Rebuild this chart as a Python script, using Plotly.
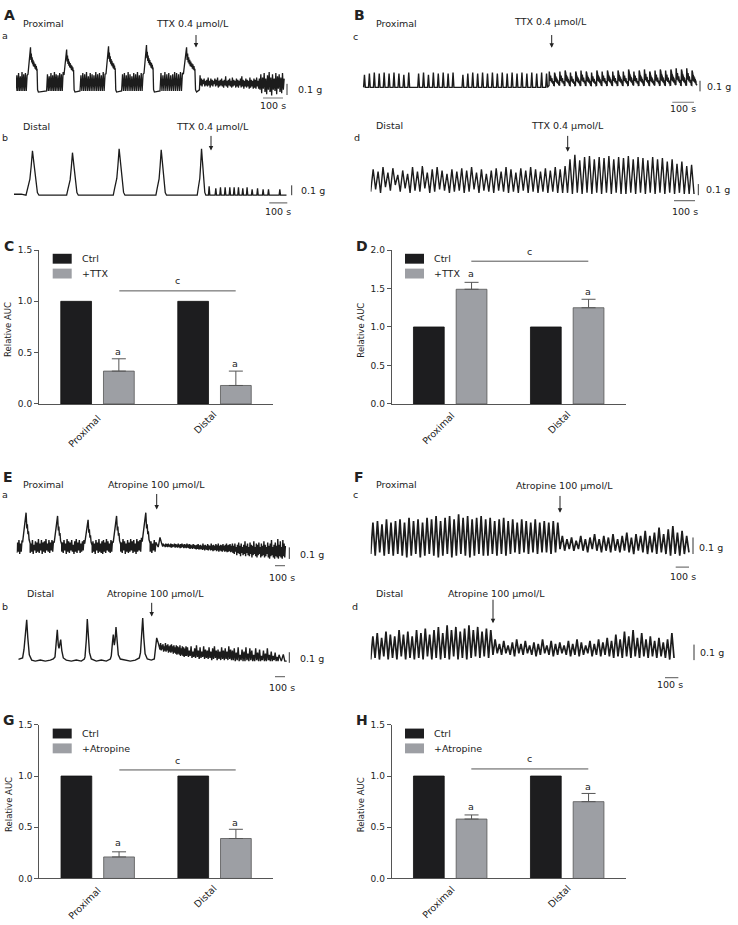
import plotly.graph_objects as go

W, H = 738, 925
FONT = "DejaVu Sans"
INK = "#1c1c1c"

# ---------------- bar chart data ----------------
categories = ["Proximal", "Distal"]
c_ctrl = [1.0, 1.0]
c_ttx = [0.32, 0.18]
c_ttx_err = [0.12, 0.14]
d_ctrl = [1.0, 1.0]
d_ttx = [1.49, 1.25]
d_ttx_err = [0.09, 0.11]
g_ctrl = [1.0, 1.0]
g_atr = [0.21, 0.39]
g_atr_err = [0.05, 0.09]
h_ctrl = [1.0, 1.0]
h_atr = [0.58, 0.75]
h_atr_err = [0.04, 0.08]

# ---------------- trace data (time in s, force in g) ----------------
# A-a proximal, TTX
aa_train_t = [(0, 60), (153, 240), (320, 450), (528, 640), (720, 837)]
aa_train_hi = [
    [0.15, 0.17, 0.14, 0.18, 0.16, 0.17, 0.15],
    [0.16, 0.14, 0.17, 0.15, 0.18, 0.16, 0.15, 0.17, 0.16, 0.18],
    [0.15, 0.17, 0.16, 0.18, 0.14, 0.17, 0.16, 0.15, 0.18, 0.16, 0.17, 0.15, 0.18, 0.16],
    [0.16, 0.17, 0.15, 0.18, 0.16, 0.14, 0.17, 0.16, 0.18, 0.15, 0.17, 0.16],
    [0.17, 0.15, 0.18, 0.16, 0.17, 0.15, 0.16, 0.18, 0.17, 0.16, 0.18, 0.17],
]
aa_wave_on = [60, 240, 450, 640, 837]
aa_wave_dur = [52, 55, 53, 52, 66]
aa_wave_pk = [0.40, 0.38, 0.41, 0.42, 0.40]
aa_wave_s = [0.0, 0.08, 0.16, 0.24, 0.28, 0.32, 0.36, 0.40, 0.44, 0.48, 0.52, 0.56, 0.60, 0.64,
             0.68, 0.72, 0.76, 0.80, 0.84, 0.87, 0.92, 1.0]
aa_wave_f = [0.40, 0.60, 0.85, 1.00, 0.72, 0.86, 0.66, 0.78, 0.62, 0.72, 0.58, 0.68, 0.56, 0.64,
             0.52, 0.62, 0.50, 0.58, 0.48, 0.52, 0.05, 0.0]
aa_ttx_hi1 = [0.15, 0.12, 0.11, 0.12, 0.10, 0.11, 0.13, 0.10, 0.12, 0.11, 0.10, 0.12, 0.11, 0.13, 0.10,
              0.11, 0.12, 0.10, 0.11, 0.14, 0.10, 0.11, 0.12, 0.10, 0.13, 0.11, 0.10, 0.12, 0.11, 0.10,
              0.12, 0.14, 0.11, 0.10, 0.12, 0.11, 0.10, 0.13, 0.11, 0.10, 0.12, 0.11, 0.13, 0.10, 0.12]
aa_ttx_lo1 = [0.05, 0.06, 0.05, 0.07, 0.05, 0.06, 0.05, 0.06, 0.04, 0.06, 0.05, 0.07, 0.05, 0.06, 0.04,
              0.05, 0.06, 0.05, 0.04, 0.06, 0.05, 0.04, 0.06, 0.05, 0.04, 0.05, 0.06, 0.04, 0.05, 0.04,
              0.06, 0.04, 0.05, 0.03, 0.05, 0.04, 0.05, 0.03, 0.04, 0.05, 0.03, 0.04, 0.03, 0.05, 0.03]
aa_ttx_hi2 = [0.16, 0.13, 0.17, 0.12, 0.15, 0.18, 0.13, 0.16, 0.12, 0.17, 0.14, 0.16, 0.13, 0.17, 0.12]
aa_ttx_lo2 = [0.02, -0.01, 0.03, 0.0, -0.02, 0.02, 0.0, -0.03, 0.02, 0.01, -0.02, 0.03, 0.0, -0.01, 0.02]

# A-b distal, TTX
ab_wave_on = [66.7, 292.6, 552, 789, 1018.6]
ab_wave_dur = [72, 65, 65, 59, 48]
ab_wave_pk = [0.45, 0.43, 0.47, 0.46, 0.47]
ab_wave_s = [0.0, 0.12, 0.22, 0.30, 0.40, 0.50, 0.62, 0.75, 0.88, 1.0]
ab_wave_f = [0.0, 0.15, 0.30, 0.36, 0.65, 1.0, 0.70, 0.35, 0.06, 0.0]
ab_ttx_spk_t = [1085, 1122, 1148, 1174, 1200, 1224, 1248, 1272, 1296, 1324, 1354, 1385, 1415, 1478]
ab_ttx_spk_h = [0.09, 0.07, 0.08, 0.08, 0.08, 0.08, 0.08, 0.07, 0.08, 0.06, 0.07, 0.06, 0.06, 0.06]

# B-c proximal, TTX
bc_pre = [0.12, 0.13, 0.14, 0.13, 0.14, 0.13, 0.14, 0.13, 0.12, 0.14, 0.0, 0.13, 0.14, 0.12, 0.14,
          0.13, 0.14, 0.13, 0.14, 0.0, 0.12, 0.13, 0.14, 0.13, 0.14, 0.13, 0.14, 0.13, 0.14, 0.13,
          0.14, 0.13, 0.14, 0.13, 0.14, 0.13, 0.14, 0.13]
bc_post = [0.15, 0.14, 0.15, 0.16, 0.14, 0.15, 0.16, 0.15, 0.14, 0.16, 0.15, 0.16, 0.15, 0.16,
           0.15, 0.17, 0.15, 0.16, 0.17, 0.15, 0.16, 0.17, 0.16, 0.17, 0.18, 0.17, 0.18, 0.16]
bc_cyc_s = [0.0, 0.05, 0.11, 0.17, 0.23, 0.29, 0.35, 0.41, 0.47, 0.53, 0.59, 0.65, 0.71, 0.77, 0.83, 0.90]
bc_cyc_f = [0.12, 1.0, 0.45, 0.85, 0.40, 0.75, 0.36, 0.66, 0.32, 0.58, 0.28, 0.50, 0.24, 0.40, 0.18, 0.12]

# B-d distal, TTX
bd_pre_hi = [0.22, 0.20, 0.24, 0.19, 0.23, 0.17, 0.21, 0.18, 0.24, 0.20, 0.25, 0.19, 0.22, 0.24,
             0.21, 0.18, 0.22, 0.20, 0.23, 0.21, 0.24, 0.19, 0.22, 0.18, 0.21, 0.23, 0.20, 0.24,
             0.22, 0.19, 0.23, 0.21, 0.24, 0.22, 0.20, 0.23, 0.21, 0.24, 0.22, 0.25]
bd_pre_lo = [0.02, 0.04, 0.01, 0.06, 0.03, 0.08, 0.02, 0.05, 0.01, 0.03, 0.02, 0.05, 0.01, 0.02,
             0.04, 0.03, 0.01, 0.02, 0.03, 0.01, 0.02, 0.04, 0.01, 0.03, 0.02, 0.01, 0.03, 0.02,
             0.01, 0.02, 0.01, 0.03, 0.01, 0.02, 0.01, 0.02, 0.01, 0.02, 0.01, 0.01]
bd_post_hi = [0.31, 0.35, 0.30, 0.33, 0.34, 0.31, 0.33, 0.32, 0.34, 0.31, 0.33, 0.32, 0.34, 0.31,
              0.33, 0.32, 0.30, 0.33, 0.31, 0.32, 0.29, 0.31, 0.27, 0.29, 0.25, 0.26]
bd_post_lo = [0.01, 0.0, 0.01, 0.0, 0.01, 0.0, 0.01, 0.0, 0.01, 0.0, 0.01, 0.0, 0.0, 0.01,
              0.0, 0.01, 0.0, 0.01, 0.0, 0.01, 0.0, 0.01, 0.0, 0.01, 0.0, 0.0]

# E-a proximal, atropine
ea_train_t = [(0, 60), (135, 375), (450, 680), (755, 965), (1040, 1255), (1335, 1400)]
ea_train_hi = [
    [0.10, 0.12, 0.09, 0.11],
    [0.09, 0.12, 0.08, 0.11, 0.10, 0.13, 0.09, 0.12, 0.10, 0.11, 0.13, 0.09, 0.12, 0.10, 0.12, 0.11],
    [0.10, 0.12, 0.09, 0.13, 0.11, 0.10, 0.12, 0.08, 0.11, 0.13, 0.10, 0.12, 0.09, 0.11, 0.12],
    [0.11, 0.09, 0.12, 0.10, 0.13, 0.09, 0.11, 0.12, 0.10, 0.13, 0.11, 0.09, 0.12, 0.11],
    [0.10, 0.13, 0.11, 0.09, 0.12, 0.10, 0.13, 0.11, 0.12, 0.09, 0.13, 0.11, 0.12, 0.14],
    [0.11, 0.09, 0.12, 0.10],
]
ea_train_lo = [
    [0.01, 0.02, 0.0, 0.02],
    [0.01, 0.02, 0.0, 0.03, 0.01, 0.02, 0.01, 0.03, 0.0, 0.02, 0.01, 0.03, 0.02, 0.01, 0.03, 0.02],
    [0.02, 0.01, 0.03, 0.0, 0.02, 0.01, 0.03, 0.02, 0.0, 0.02, 0.01, 0.03, 0.01, 0.02, 0.03],
    [0.01, 0.02, 0.0, 0.03, 0.01, 0.02, 0.01, 0.0, 0.02, 0.01, 0.03, 0.02, 0.01, 0.02],
    [0.02, 0.01, 0.03, 0.0, 0.02, 0.01, 0.02, 0.03, 0.01, 0.02, 0.0, 0.02, 0.03, 0.02],
    [0.02, 0.01, 0.03, 0.02],
]
ea_wave_on = [60, 375, 680, 965, 1255]
ea_wave_dur = [75, 75, 75, 75, 80]
ea_wave_pk = [0.357, 0.329, 0.295, 0.329, 0.357]
ea_wave_s = [0.0, 0.15, 0.30, 0.45, 0.55, 0.62, 0.70, 0.77, 0.85, 1.0]
ea_wave_f = [0.30, 0.50, 0.75, 1.0, 0.62, 0.72, 0.48, 0.55, 0.35, 0.25]
ea_bump_t = [1415, 1433, 1450]
ea_bump_f = [0.06, 0.143, 0.09]
ea_band_t = [(1460, 1833), (1833, 2163), (2163, 2693)]
ea_band_hi = [
    [0.09, 0.08, 0.09, 0.085, 0.09, 0.08, 0.09, 0.085, 0.08, 0.09, 0.085, 0.08, 0.09, 0.08, 0.085,
     0.09, 0.08, 0.085, 0.08, 0.09, 0.08, 0.085, 0.08, 0.075, 0.085, 0.08, 0.075, 0.08, 0.085, 0.075],
    [0.08, 0.07, 0.09, 0.075, 0.08, 0.07, 0.085, 0.075, 0.07, 0.09, 0.075, 0.08, 0.07, 0.085,
     0.075, 0.09, 0.07, 0.08, 0.075, 0.085, 0.07, 0.08, 0.09, 0.075, 0.08, 0.085, 0.07, 0.09],
    [0.07, 0.09, 0.06, 0.08, 0.10, 0.07, 0.09, 0.06, 0.08, 0.11, 0.07, 0.09, 0.06, 0.10, 0.08,
     0.07, 0.11, 0.06, 0.09, 0.08, 0.10, 0.06, 0.09, 0.07, 0.11, 0.08, 0.06, 0.10, 0.07, 0.09,
     0.12, 0.06, 0.08, 0.10, 0.07, 0.13, 0.08, 0.11, 0.06, 0.12, 0.09, 0.07],
]
ea_band_lo = [
    [0.065, 0.07, 0.06, 0.065, 0.06, 0.065, 0.06, 0.055, 0.06, 0.065, 0.055, 0.06, 0.055, 0.06, 0.05,
     0.055, 0.06, 0.05, 0.055, 0.05, 0.055, 0.05, 0.045, 0.05, 0.045, 0.05, 0.045, 0.04, 0.045, 0.04],
    [0.04, 0.045, 0.035, 0.04, 0.03, 0.04, 0.035, 0.03, 0.04, 0.03, 0.035, 0.025, 0.03, 0.035,
     0.025, 0.03, 0.02, 0.03, 0.025, 0.02, 0.03, 0.02, 0.025, 0.015, 0.02, 0.025, 0.015, 0.02],
    [0.01, 0.0, 0.02, -0.01, 0.01, 0.0, -0.02, 0.01, -0.01, 0.0, -0.02, 0.01, -0.01, -0.02, 0.0,
     -0.03, -0.01, 0.0, -0.02, -0.03, -0.01, 0.0, -0.03, -0.02, -0.01, -0.03, -0.02, 0.0, -0.03, -0.04,
     -0.02, -0.01, -0.03, -0.04, -0.02, -0.03, -0.04, -0.02, -0.03, -0.04, -0.02, -0.03],
]

# E-b distal, atropine
eb_pre_t = [0, 20, 43, 57, 70, 84, 95, 110, 134, 170, 220, 270, 320, 350,
            367, 380, 390, 400, 407, 417, 424, 435, 450, 480, 530, 580, 630, 660,
            667, 680, 690, 700, 712, 730, 780, 830, 880, 920,
            930, 942, 950, 960, 968, 977, 988, 1000, 1020, 1070, 1120, 1170, 1210,
            1222, 1235, 1244, 1255, 1268, 1290, 1330, 1360, 1375, 1384, 1400]
eb_pre_f = [0.016, 0.02, 0.03, 0.11, 0.25, 0.39, 0.22, 0.06, 0.01, 0.0, 0.01, 0.0, 0.01, 0.02,
            0.04, 0.16, 0.297, 0.15, 0.12, 0.17, 0.203, 0.10, 0.03, 0.01, 0.0, 0.01, 0.0, 0.02,
            0.04, 0.20, 0.397, 0.25, 0.08, 0.02, 0.0, 0.01, 0.0, 0.02,
            0.05, 0.18, 0.25, 0.15, 0.20, 0.322, 0.18, 0.06, 0.02, 0.01, 0.0, 0.01, 0.03,
            0.08, 0.25, 0.406, 0.22, 0.07, 0.02, 0.01, 0.02, 0.12, 0.22, 0.17]
eb_band_t = [(1417, 1683), (1683, 2150), (2150, 2617)]
eb_band_hi = [
    [0.17, 0.15, 0.16, 0.14, 0.17, 0.15, 0.16, 0.14, 0.15, 0.16, 0.14, 0.15, 0.13, 0.15, 0.14,
     0.13, 0.15, 0.12, 0.14, 0.13, 0.12, 0.14],
    [0.13, 0.10, 0.14, 0.09, 0.12, 0.15, 0.10, 0.13, 0.09, 0.14, 0.11, 0.10, 0.13, 0.09, 0.12,
     0.14, 0.10, 0.11, 0.09, 0.13, 0.10, 0.12, 0.09, 0.14, 0.11, 0.10],
    [0.12, 0.08, 0.13, 0.06, 0.11, 0.09, 0.13, 0.07, 0.12, 0.10, 0.06, 0.12, 0.08, 0.11, 0.05,
     0.10, 0.07, 0.12, 0.06, 0.09, 0.05, 0.08, 0.04, 0.06],
]
eb_band_lo = [
    [0.11, 0.10, 0.11, 0.09, 0.10, 0.09, 0.10, 0.08, 0.09, 0.08, 0.09, 0.07, 0.08, 0.07, 0.06,
     0.07, 0.06, 0.05, 0.06, 0.05, 0.04, 0.05],
    [0.05, 0.04, 0.05, 0.03, 0.04, 0.03, 0.04, 0.02, 0.03, 0.04, 0.02, 0.03, 0.02, 0.03, 0.01,
     0.02, 0.03, 0.01, 0.02, 0.01, 0.02, 0.01, 0.02, 0.01, 0.02, 0.01],
    [0.01, 0.0, 0.01, 0.0, 0.01, 0.0, 0.0, 0.01, 0.0, 0.01, 0.0, 0.0, 0.01, 0.0, 0.0,
     0.01, 0.0, 0.0, 0.01, 0.0, 0.0, 0.01, 0.0, 0.0],
]
eb_end_t = [2630, 2650, 2665, 2684]
eb_end_f = [0.0, 0.063, 0.0, 0.0]

# F-c proximal, atropine
fc_pre_hi = [0.20, 0.21, 0.19, 0.22, 0.20, 0.21, 0.22, 0.20, 0.23, 0.21, 0.22, 0.20, 0.23, 0.22,
             0.24, 0.21, 0.23, 0.24, 0.22, 0.25, 0.23, 0.24, 0.22, 0.23, 0.24, 0.22, 0.23, 0.21,
             0.22, 0.23, 0.21, 0.22, 0.20, 0.22, 0.21, 0.20, 0.22, 0.20, 0.21, 0.20, 0.21, 0.20]
fc_pre_lo = [0.01, 0.0, 0.02, 0.0, 0.01, 0.0, 0.01, 0.0, -0.01, 0.0, 0.01, -0.01, 0.0, 0.01,
             0.0, -0.01, 0.0, 0.01, -0.01, 0.0, 0.01, 0.0, -0.01, 0.0, 0.01, 0.0, 0.0, 0.01,
             0.0, 0.01, 0.0, 0.01, 0.02, 0.01, 0.02, 0.01, 0.02, 0.01, 0.02, 0.02, 0.01, 0.02]
fc_post_hi = [0.12, 0.10, 0.11, 0.09, 0.12, 0.10, 0.11, 0.13, 0.10, 0.12, 0.11, 0.13, 0.10, 0.12,
              0.14, 0.11, 0.13, 0.12, 0.15, 0.12, 0.14, 0.17, 0.13, 0.16, 0.18, 0.14, 0.15, 0.12]
fc_post_lo = [0.04, 0.03, 0.04, 0.03, 0.04, 0.03, 0.02, 0.04, 0.03, 0.02, 0.03, 0.02, 0.03, 0.02,
              0.03, 0.02, 0.01, 0.03, 0.02, 0.01, 0.02, 0.01, 0.02, 0.01, 0.0, 0.01, 0.0, 0.01]

# F-d distal, atropine
fd_pre_hi = [0.15, 0.17, 0.14, 0.18, 0.16, 0.15, 0.19, 0.16, 0.18, 0.15, 0.19, 0.17, 0.20, 0.16,
             0.19, 0.21, 0.17, 0.22, 0.19, 0.21, 0.18, 0.20, 0.22, 0.19, 0.21, 0.18, 0.20, 0.19]
fd_pre_lo = [0.0, 0.01, 0.0, 0.02, 0.0, 0.01, 0.0, 0.02, 0.0, 0.01, 0.0, 0.01, 0.0, 0.02,
             0.0, 0.01, 0.0, 0.01, 0.0, 0.02, 0.0, 0.01, 0.0, 0.01, 0.02, 0.01, 0.02, 0.01]
fd_post_hi = [0.13, 0.10, 0.12, 0.09, 0.11, 0.13, 0.10, 0.12, 0.09, 0.11, 0.10, 0.13, 0.09, 0.12,
              0.10, 0.11, 0.09, 0.12, 0.10, 0.13, 0.11, 0.09, 0.12, 0.10, 0.13, 0.11, 0.14, 0.12,
              0.16, 0.13, 0.18, 0.15, 0.19, 0.14, 0.17, 0.13, 0.15, 0.12, 0.14, 0.11, 0.13, 0.17]
fd_post_lo = [0.03, 0.04, 0.03, 0.04, 0.03, 0.02, 0.04, 0.03, 0.04, 0.03, 0.02, 0.03, 0.04, 0.03,
              0.02, 0.03, 0.04, 0.03, 0.02, 0.03, 0.02, 0.03, 0.04, 0.02, 0.03, 0.02, 0.03, 0.02,
              0.01, 0.02, 0.01, 0.02, 0.01, 0.02, 0.01, 0.02, 0.01, 0.02, 0.01, 0.02, 0.01, 0.0]


# ---------------- builders ----------------
def zig(t0, t1, hi, lo):
    n = len(hi)
    dt = (t1 - t0) / n
    pts = []
    for i in range(n):
        low = lo[i] if isinstance(lo, list) else lo
        pts.append((t0 + i * dt, low))
        pts.append((t0 + (i + 0.5) * dt, hi[i]))
    return pts


def wave(on, dur, pk, s_list, f_list):
    return [(on + s * dur, f * pk) for s, f in zip(s_list, f_list)]


def spikes(times, heights, base, half):
    pts = []
    for t, h in zip(times, heights):
        pts += [(t - half, base), (t, h), (t + half, base)]
    return pts


def spike_train(t0, t1, heights, base, half):
    n = len(heights)
    dt = (t1 - t0) / n
    return spikes([t0 + (i + 0.5) * dt for i in range(n)], heights, base, half)


def cycles(t0, t1, pks, s_list, f_list):
    n = len(pks)
    dt = (t1 - t0) / n
    return [(t0 + i * dt + s * dt, f * p) for i, p in enumerate(pks) for s, f in zip(s_list, f_list)]


# A-a
aa = []
for k in range(5):
    aa += zig(aa_train_t[k][0], aa_train_t[k][1], aa_train_hi[k], 0.01)
    aa += wave(aa_wave_on[k], aa_wave_dur[k], aa_wave_pk[k], aa_wave_s, aa_wave_f)
aa += [(917, 0.02)] + zig(917, 1220, aa_ttx_hi1, aa_ttx_lo1) + zig(1220, 1345, aa_ttx_hi2, aa_ttx_lo2)

# A-b
ab = [(0, 0.01), (40, 0.01)]
for k in range(5):
    ab += wave(ab_wave_on[k], ab_wave_dur[k], ab_wave_pk[k], ab_wave_s, ab_wave_f)
ab += spikes(ab_ttx_spk_t, ab_ttx_spk_h, 0.0, 4) + [(1515, 0.0)]

# B-c
bc = spike_train(0, 864, bc_pre, 0.0, 4) + cycles(864, 1548, bc_post, bc_cyc_s, bc_cyc_f) + [(1548, 0.02)]

# B-d
bd = zig(0, 937, bd_pre_hi, bd_pre_lo) + zig(937, 1539, bd_post_hi, bd_post_lo) + [(1539, 0.0)]

# E-a
ea = []
for k in range(5):
    ea += zig(ea_train_t[k][0], ea_train_t[k][1], ea_train_hi[k], ea_train_lo[k])
    ea += wave(ea_wave_on[k], ea_wave_dur[k], ea_wave_pk[k], ea_wave_s, ea_wave_f)
ea += zig(ea_train_t[5][0], ea_train_t[5][1], ea_train_hi[5], ea_train_lo[5])
ea += list(zip(ea_bump_t, ea_bump_f))
for k in range(3):
    ea += zig(ea_band_t[k][0], ea_band_t[k][1], ea_band_hi[k], ea_band_lo[k])

# E-b
eb = list(zip(eb_pre_t, eb_pre_f))
for k in range(3):
    eb += zig(eb_band_t[k][0], eb_band_t[k][1], eb_band_hi[k], eb_band_lo[k])
eb += list(zip(eb_end_t, eb_end_f))

# F-c / F-d
fc = zig(0, 1420, fc_pre_hi, fc_pre_lo) + zig(1420, 2387, fc_post_hi, fc_post_lo) + [(2387, 0.02)]
fd = zig(0, 917, fd_pre_hi, fd_pre_lo) + zig(917, 2275, fd_post_hi, fd_post_lo) + [(2275, 0.01)]

# ---------------- figure ----------------
fig = go.Figure()
layout = dict(width=W, height=H, margin=dict(l=0, r=0, t=0, b=0), paper_bgcolor="white",
              plot_bgcolor="rgba(0,0,0,0)", showlegend=False, barmode="overlay",
              font=dict(family=FONT, size=9.5, color="#222"))
shapes, annotations = [], []
n_ax = [0]


def px(x):
    return x / W


def py(y):
    return 1 - y / H


def new_axes(x0, y0, x1, y1, xr, yr):
    n_ax[0] += 1
    i = n_ax[0]
    sfx = "" if i == 1 else str(i)
    layout["xaxis" + sfx] = dict(domain=[px(x0), px(x1)], range=xr, anchor="y" + sfx, visible=False,
                                 fixedrange=True)
    layout["yaxis" + sfx] = dict(domain=[py(y1), py(y0)], range=yr, anchor="x" + sfx, visible=False,
                                 fixedrange=True)
    return "x" + sfx, "y" + sfx


def text(x, y, s, size=9.5, xanchor="center", bold=False, angle=0, color="#222"):
    annotations.append(dict(x=px(x), y=py(y), xref="paper", yref="paper", text=("<b>%s</b>" % s) if bold else s,
                            showarrow=False, xanchor=xanchor, yanchor="middle", textangle=angle,
                            font=dict(family=FONT, size=size, color=color)))


def arrow(x, y_tail, y_head):
    annotations.append(dict(x=px(x), y=py(y_head), xref="paper", yref="paper", ax=0, ay=-(y_head - y_tail),
                            text="", showarrow=True, arrowhead=2, arrowsize=0.9, arrowwidth=1,
                            arrowcolor="#222", standoff=0))


def trace_panel(pts, box, spp, base_px, gpp, vbar, hbar, gtxt, stxt, lw=1.3):
    x0, y0, x1, y1 = box
    xr = [0, (x1 - x0) * spp]
    yr = [(base_px - y1) * gpp, (base_px - y0) * gpp]
    xa, ya = new_axes(x0, y0, x1, y1, xr, yr)
    fig.add_trace(go.Scatter(x=[p[0] for p in pts], y=[p[1] for p in pts], mode="lines",
                             line=dict(color=INK, width=lw), xaxis=xa, yaxis=ya, hoverinfo="skip"))
    vt = (vbar[0] - x0) * spp
    vg = (base_px - vbar[1]) * gpp
    shapes.append(dict(type="line", xref=xa, yref=ya, x0=vt, x1=vt, y0=vg, y1=vg + 0.1,
                       line=dict(color="#333", width=1)))
    ht = (hbar[0] - x0) * spp
    hg = (base_px - hbar[1]) * gpp
    shapes.append(dict(type="line", xref=xa, yref=ya, x0=ht, x1=ht + 100, y0=hg, y1=hg,
                       line=dict(color="#777", width=1.2)))
    text(gtxt[0], gtxt[1], "0.1 g", xanchor="left")
    text(stxt[0], stxt[1], "100 s")


trace_panel(aa, (16, 30, 300, 100), 5.0, 88, 0.1 / 11.3, (287, 91), (263, 94), (296, 85), (273, 102))
trace_panel(ab, (14, 120, 300, 212), 5.56, 192.3, 0.01, (291.7, 192.3), (269.3, 200), (299, 187.3), (278, 208.3))
trace_panel(bc, (362, 50, 710, 105), 4.62, 83.3, 0.1 / 10.7, (700, 87.3), (672.3, 98.3), (705, 82), (683, 105), lw=1.4)
trace_panel(bd, (370.7, 140, 710, 212), 4.76, 191, 0.1 / 11.3, (698.3, 192.3), (674, 197.7), (704, 186.7), (684.5, 208.3), lw=1.4)
trace_panel(ea, (16.7, 505, 300, 575), 10.0, 555, 0.1 / 11.7, (289.3, 560), (275, 566.7), (298, 555), (281.7, 578.3), lw=1.4)
trace_panel(eb, (18.3, 610, 300, 690), 10.0, 663.3, 0.1 / 10.7, (289.3, 665), (275, 679), (298, 661), (282, 690), lw=1.4)
trace_panel(fc, (370.7, 505, 730, 575), 7.5, 556.7, 0.1 / 16.7, (693, 555), (675.7, 568.3), (697, 548.3), (683, 577.7), lw=1.7)
trace_panel(fd, (370.7, 610, 730, 690), 7.5, 661.7, 0.1 / 15.7, (694, 662.3), (665, 680), (698, 654.3), (669.5, 686.7), lw=1.7)

# trace labels
TTX = "TTX 0.4 μmol/L"
ATR = "Atropine 100 μmol/L"
text(9, 10, "A", size=14, bold=True)
text(5, 31, "a")
text(21, 18.3, "Proximal", xanchor="left")
text(193, 19, TTX)
arrow(196, 29, 43)
text(5, 134.3, "b")
text(21, 123.3, "Distal", xanchor="left")
text(212.5, 123.3, TTX)
arrow(211, 131, 147)
text(359, 10, "B", size=14, bold=True)
text(355, 31.7, "c")
text(374, 18.3, "Proximal", xanchor="left")
text(550.7, 17, TTX)
arrow(551.7, 29, 43.3)
text(356.7, 134.3, "d")
text(374, 121.7, "Distal", xanchor="left")
text(567.3, 121.7, TTX)
arrow(567.7, 131, 148.3)

text(8, 476.7, "E", size=14, bold=True)
text(5, 495, "a")
text(21, 485, "Proximal", xanchor="left")
text(156.7, 485, ATR)
arrow(156.7, 493, 510)
text(5, 608.3, "b")
text(25, 595, "Distal", xanchor="left")
text(155, 595, ATR)
arrow(151.7, 603, 618.3)
text(359, 476.7, "F", size=14, bold=True)
text(355, 495, "c")
text(374, 485, "Proximal", xanchor="left")
text(564.8, 486, ATR)
arrow(560, 495, 513.3)
text(355, 608.3, "d")
text(374, 595, "Distal", xanchor="left")
text(496, 595, ATR)
arrow(493, 600, 625)

# ---------------- bar panels ----------------
CTRL_FILL, CTRL_LINE = "#1d1d1f", "#111111"
TRT_FILL, TRT_LINE = "#9d9fa4", "#555555"
BAR_W = 0.263


def bar_panel(letter, ctrl, trt, err, trt_name, box, ymax, ytickvals, legend_x, legend_y, a_pos, c_line, cat_pos):
    x0, y0, x1, y1 = box
    xa, ya = new_axes(x0, y0, x1, y1, [-0.5, 1.5], [0, ymax])
    xk = "xaxis" + xa[1:]
    yk = "yaxis" + ya[1:]
    layout[xk].update(visible=True, showline=True, linecolor="#555", linewidth=1, ticks="",
                      showticklabels=False, showgrid=False, zeroline=False)
    layout[yk].update(visible=True, showline=True, linecolor="#555", linewidth=1, ticks="outside",
                      ticklen=4, tickcolor="#555", tickvals=ytickvals,
                      ticktext=["%.1f" % v for v in ytickvals], showgrid=False, zeroline=False,
                      tickfont=dict(family=FONT, size=9, color="#222"))
    xs = [0, 1]
    fig.add_trace(go.Bar(x=xs, y=ctrl, width=BAR_W, offset=-0.314, marker=dict(color=CTRL_FILL,
                         line=dict(color=CTRL_LINE, width=0.8)), xaxis=xa, yaxis=ya, hoverinfo="skip"))
    fig.add_trace(go.Bar(x=xs, y=trt, width=BAR_W, offset=0.051, marker=dict(color=TRT_FILL,
                         line=dict(color=TRT_LINE, width=0.8)), xaxis=xa, yaxis=ya, hoverinfo="skip",
                         error_y=dict(type="data", array=err, arrayminus=[0, 0], symmetric=False,
                                      color="#555", thickness=1, width=7)))
    # category labels (rotated)
    for cat, (cx, cy) in zip(categories, cat_pos):
        text(cx, cy, cat, size=9.5, angle=-45)
    # panel letter + axis title
    text(box[0] - 30, box[1] - 4.5, letter, size=14, bold=True)
    text(box[0] - 31, (box[1] + box[3]) / 2 + 3, "Relative AUC", size=8.5, angle=-90)
    # legend
    lx, ly = legend_x, legend_y
    shapes.append(dict(type="rect", xref="paper", yref="paper", x0=px(lx), x1=px(lx + 19), y0=py(ly + 5),
                       y1=py(ly - 5), fillcolor=CTRL_FILL, line=dict(width=0)))
    shapes.append(dict(type="rect", xref="paper", yref="paper", x0=px(lx), x1=px(lx + 19), y0=py(ly + 20),
                       y1=py(ly + 10), fillcolor=TRT_FILL, line=dict(width=0)))
    text(lx + 27, ly, "Ctrl", xanchor="left")
    text(lx + 27, ly + 15, trt_name, xanchor="left")
    # significance
    for xc, yy in zip(a_pos[0], a_pos[1]):
        text(xc, yy, "a")
    cx0, cx1, cy, cty = c_line
    shapes.append(dict(type="line", xref="paper", yref="paper", x0=px(cx0), x1=px(cx1), y0=py(cy), y1=py(cy),
                       line=dict(color="#555", width=1)))
    text((cx0 + cx1) / 2, cty, "c")


bar_panel("C", c_ctrl, c_ttx, c_ttx_err, "+TTX", (39, 247.7, 273, 403.3), 1.5, [0, 0.5, 1.0, 1.5],
          52.7, 256.5, ([118.3, 235.3], [350, 362.3]), (119.3, 235.7, 289, 279),
          [(84, 431), (205, 422.5)])
bar_panel("D", d_ctrl, d_ttx, d_ttx_err, "+TTX", (391.7, 247.7, 625.7, 403.3), 2.0, [0, 0.5, 1.0, 1.5, 2.0],
          405, 256.5, ([471.3, 588], [271.7, 290]), (471.3, 588.3, 259, 249),
          [(438, 428), (559, 422.5)])
bar_panel("G", g_ctrl, g_atr, g_atr_err, "+Atropine", (39.3, 727.7, 273, 883), 1.5, [0, 0.5, 1.0, 1.5],
          52.7, 736.5, ([118.3, 235.3], [846.7, 826]), (119.3, 235.7, 773.3, 764),
          [(84, 908), (205, 901.5)])
bar_panel("H", h_ctrl, h_atr, h_atr_err, "+Atropine", (391.7, 727.7, 625.7, 883), 1.5, [0, 0.5, 1.0, 1.5],
          405, 736.5, ([471.3, 588], [810, 790]), (471.3, 588.3, 772.3, 761.7),
          [(438, 907), (559, 901.5)])

layout["shapes"] = shapes
layout["annotations"] = annotations
fig.update_layout(**layout)
fig.write_html("out.html", config={"displayModeBar": False, "staticPlot": True},
               post_script="document.body.style.margin='0px';document.body.style.padding='0px';"
                           "document.body.style.overflow='hidden';")
